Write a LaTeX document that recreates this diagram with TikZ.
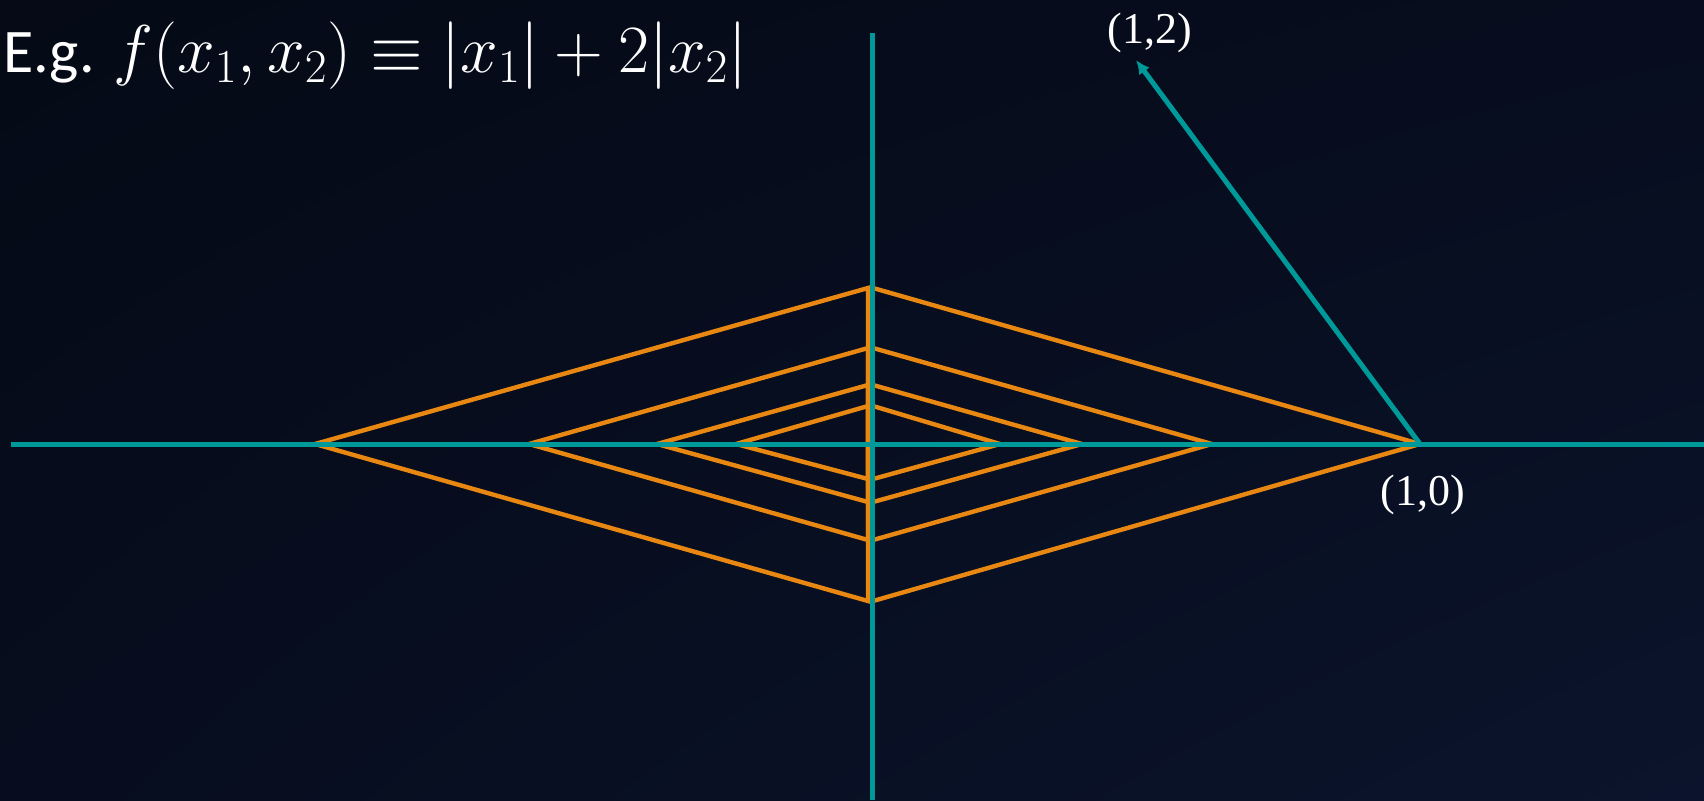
\RequirePackage{fix-cm}
\documentclass[tikz,border=0pt]{standalone}
\usepackage{fontspec}
\setmainfont{Carlito}
\newfontfamily\labfont{Liberation Serif}
\usetikzlibrary{arrows.meta,shadings}
\definecolor{bgA}{RGB}{5,10,22}
\definecolor{bgM}{RGB}{7,13,30}
\definecolor{bgB}{RGB}{11,20,44}
\definecolor{teal}{RGB}{0,153,153}
\definecolor{orng}{RGB}{232,136,18}
\tikzset{
  axis/.style={draw=teal, line width=2.5pt},
  lvl/.style={draw=orng, line width=2.2pt, line join=miter},
  vec/.style={draw=teal, line width=2.5pt, -{Latex[length=7pt,width=6.5pt]}},
  lab/.style={text=white, font=\labfont\fontsize{22}{26}\selectfont, inner sep=0pt},
  ttl/.style={text=white, font=\fontsize{31}{37}\selectfont, inner sep=0pt, anchor=base west}
}
\begin{document}
\begin{tikzpicture}[x=0.5pt,y=-0.5pt]
\useasboundingbox (0,0) rectangle (1704,800);
\shade[upper left=bgA, lower right=bgB, upper right=bgM, lower left=bgM] (0,0) rectangle (1704,800);
% axes
\coordinate (hl) at (11,444);
\coordinate (hr) at (1704,444);
\coordinate (vt) at (872,33);
\coordinate (vb) at (872,800);
% level sets (left halves with vertical edge, right halves)
\foreach \wl/\wr/\ht/\hb in {553/547/156/157, 339/339/96/96, 211/209/59/58, 132/127/38/35}{
  \draw[lvl] (868-\wl,444) -- (868,444-\ht) -- (868,444+\hb) -- cycle;
  \draw[lvl] (873,444-\ht) -- (873+\wr,444) -- (873,444+\hb);
}
\draw[axis] (hl) -- (hr);
\draw[axis] (vt) -- (vb);
% vector
\coordinate (o) at (1420,444);
\coordinate (p) at (1136,60);
\draw[vec] (o) -- (p);
\node[lab] (l12) at (1149.5,33) {(1,2)};
\node[lab] (l10) at (1422.5,495) {(1,0)};
\node[ttl] (title) at (3,72) {E.g. {\fontsize{33.8}{40}\selectfont$f(x_1,x_2)\equiv|x_1|+2|x_2|$}};
\end{tikzpicture}
\end{document}
